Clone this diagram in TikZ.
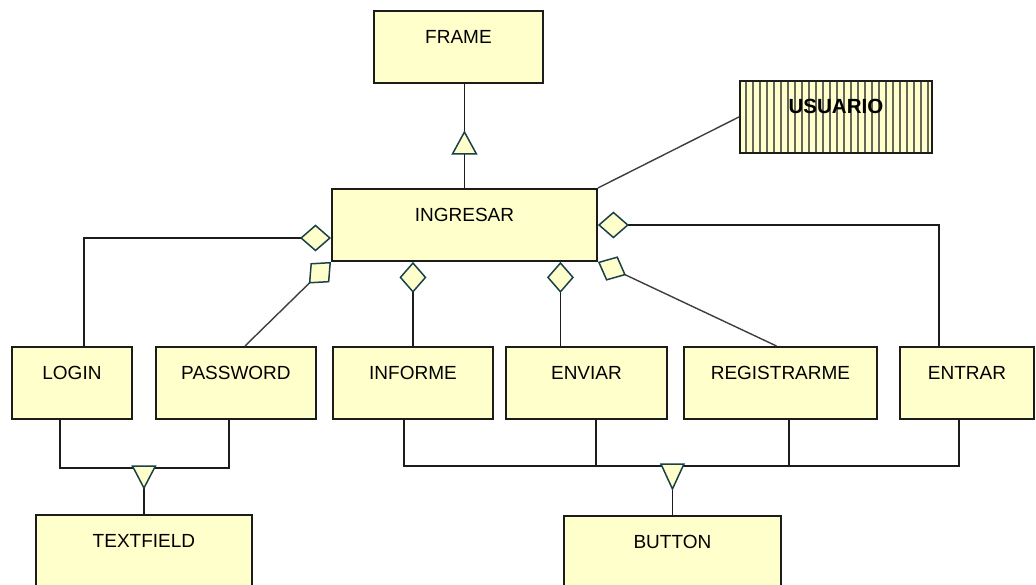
\documentclass[tikz,border=0pt]{standalone}
\usepackage{fontspec}
\setmainfont{Liberation Sans}
\usetikzlibrary{calc,arrows.meta}
\definecolor{boxfill}{HTML}{FFFFCC}
\definecolor{edge}{HTML}{1C1C1C}
\definecolor{tipedge}{HTML}{1A4048}
\definecolor{stripe}{HTML}{66665A}

\begin{document}
\begin{tikzpicture}[x=1pt,y=-1pt,
  cls/.style={draw=edge, fill=boxfill, line width=1.9pt, inner sep=0pt,
    anchor=north west, minimum height=72pt,
    text height=32.5pt, text depth=39.5pt,
    font=\fontsize{19}{22}\selectfont},
  striped/.style={cls, font=\bfseries\fontsize{20.5}{24}\selectfont,
    path picture={
      \foreach \k in {0,...,26}
        \draw[stripe, line width=1.3pt]
          ([xshift=6pt+\k*7pt]path picture bounding box.north west) --
          ([xshift=6pt+\k*7pt]path picture bounding box.south west);
    }},
  link/.style={draw=edge, line width=1.8pt},
  thin link/.style={draw=edge!85, line width=1.4pt},
  aggr/.style={
    -{Diamond[length=31pt, width=27pt, fill=boxfill, color=tipedge, line width=1.5pt]}},
  gen/.style={draw=tipedge, fill=boxfill, line width=1.5pt, line join=miter}
]
\useasboundingbox (0,0) rectangle (1036,585);
\fill[white] (0,0) rectangle (1036,585);
\clip (0,0) rectangle (1036,585);

% classes
\node[cls, minimum width=169pt] (frame) at (373,10) {FRAME};
\node[striped, minimum width=192pt] (usuario) at (739,80) {USUARIO};
\node[cls, minimum width=265pt] (ingresar) at (331,188) {INGRESAR};

\node[cls, minimum width=120pt] (login) at (11,346) {LOGIN};
\node[cls, minimum width=160pt] (password) at (155,346) {PASSWORD};
\node[cls, minimum width=160pt] (informe) at (332,346) {INFORME};
\node[cls, minimum width=161pt] (enviar) at (505,346) {ENVIAR};
\node[cls, minimum width=193pt] (registrarme) at (683,346) {REGISTRARME};
\node[cls, minimum width=134pt] (entrar) at (899,346) {ENTRAR};

\node[cls, minimum width=216pt] (textfield) at (35,514) {TEXTFIELD};
\node[cls, minimum width=217pt] (button) at (563,515) {BUTTON};

% generalisation INGRESAR -> FRAME
\draw[link] (ingresar.north) -- (ingresar.north |- frame.south);
\draw[gen] ($(ingresar.north)+(0,-56)$) -- ($(ingresar.north)+(12,-34)$)
  -- ($(ingresar.north)+(-12,-34)$) -- cycle;

% association with USUARIO
\draw[thin link] (usuario.west) -- (ingresar.north east);

% aggregations into INGRESAR
\coordinate (loginTop) at ($(login.north west)+(73,0)$);
\coordinate (passTop) at ($(password.north west)+(90,0)$);
\coordinate (enviarTop) at ($(enviar.north)+(-26,0)$);
\coordinate (regTop) at ($(registrarme.north)+(-4,0)$);
\coordinate (entrarTop) at ($(entrar.north west)+(40,0)$);

\draw[link, aggr] (loginTop) |- ($(ingresar.north west)+(0,50)$);
\draw[thin link, aggr] (passTop) -- (ingresar.south west);
\draw[link, aggr] (informe.north) -- (informe.north |- ingresar.south);
\draw[link, aggr] (enviarTop) -- (enviarTop |- ingresar.south);
\draw[thin link, aggr] (regTop) -- (ingresar.south east);
\draw[link, aggr] (entrarTop) |- ($(ingresar.north east)+(0,37)$);

% generalisation LOGIN, PASSWORD -> TEXTFIELD
\draw[link] ($(login.south)+(-12,0)$) -- ++(0,48) -| ($(password.south)+(-7,0)$);
\draw[link] (textfield.north) -- ++(0,-48);
\draw[gen] ($(textfield.north)+(0,-26)$) -- ($(textfield.north)+(11.5,-48)$)
  -- ($(textfield.north)+(-11.5,-48)$) -- cycle;

% generalisation buttons -> BUTTON
\draw[link] ($(informe.south)+(-9,0)$) |- ($(entrar.south)+(-8,46)$)
  -- ($(entrar.south)+(-8,0)$);
\draw[link] ($(enviar.south)+(9.5,0)$) -- ++(0,46);
\draw[link] ($(registrarme.south)+(8.5,0)$) -- ++(0,46);
\draw[link] (button.north) -- ++(0,-51);
\draw[gen] ($(button.north)+(0,-26)$) -- ($(button.north)+(11.5,-51)$)
  -- ($(button.north)+(-11.5,-51)$) -- cycle;
\end{tikzpicture}
\end{document}
